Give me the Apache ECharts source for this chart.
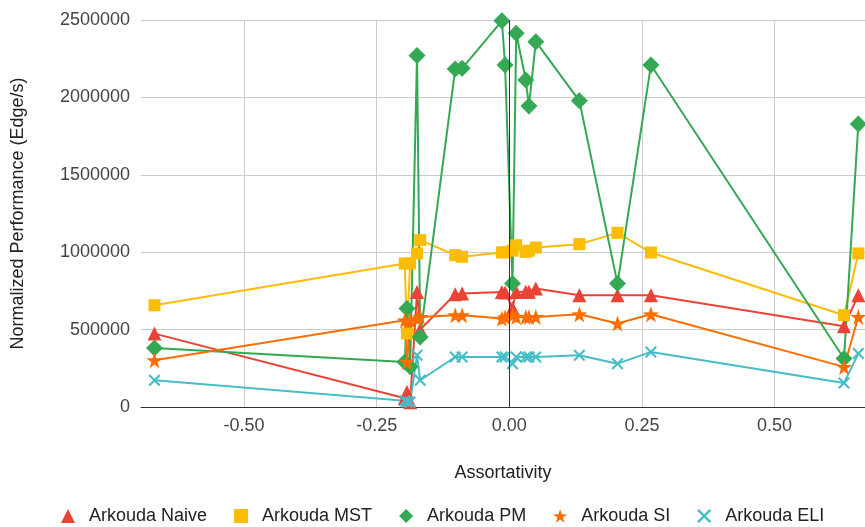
<!DOCTYPE html>
<html>
<head>
<meta charset="utf-8">
<script src="https://cdn.jsdelivr.net/npm/echarts@6/dist/echarts.min.js"></script>
<style>
html,body{margin:0;padding:0;background:#fff;}
#chart{width:865px;height:527px;}
</style>
</head>
<body>
<div id="chart"></div>
<script>
// Assortativity (x) values shared by all series
const xValues = [-0.669, -0.197, -0.193, -0.187, -0.174, -0.168, -0.102, -0.089, -0.014, -0.008, 0.006, 0.013, 0.031, 0.037, 0.050, 0.132, 0.204, 0.267, 0.631, 0.658];
const naive = [474000, 56000, 97000, 30000, 743000, 500000, 728000, 733000, 743000, 740000, 640000, 743000, 745000, 745000, 765000, 722000, 722000, 722000, 522000, 722000];
const mst   = [657000, 927000, 475000, 927000, 992000, 1078000, 981000, 970000, 998000, 1000000, 1010000, 1045000, 1002000, 1010000, 1030000, 1052000, 1125000, 998000, 593000, 992000];
const pm    = [381000, 290000, 636000, 260000, 2270000, 452000, 2183000, 2188000, 2495000, 2209000, 797000, 2414000, 2112000, 1944000, 2360000, 1978000, 797000, 2209000, 313000, 1828000];
const si    = [302000, 560000, 291000, 560000, 571000, 582000, 593000, 593000, 571000, 580000, 593000, 582000, 582000, 582000, 582000, 599000, 539000, 599000, 259000, 582000];
const eli   = [173000, 40000, 32000, 32000, 334000, 173000, 323000, 323000, 323000, 323000, 280000, 323000, 323000, 323000, 323000, 334000, 280000, 356000, 155000, 345000];

const seriesNames = ['Arkouda Naive', 'Arkouda MST', 'Arkouda PM', 'Arkouda SI', 'Arkouda ELI'];
const xTicks = [-0.5, -0.25, 0, 0.25, 0.5];
const yTicks = [0, 500000, 1000000, 1500000, 2000000, 2500000];

const colors = ['#ea4335', '#fbbc04', '#34a853', '#ff6d01', '#46bdc6'];
const starPath = 'path://M12,0 L14.9,8.6 L24,8.7 L16.7,14.1 L19.4,22.8 L12,17.6 L4.6,22.8 L7.3,14.1 L0,8.7 L9.1,8.6 Z';
const xPath = 'path://M1.5,0 L6,4.5 L10.5,0 L12,1.5 L7.5,6 L12,10.5 L10.5,12 L6,7.5 L1.5,12 L0,10.5 L4.5,6 L0,1.5 Z';
const symbols = ['triangle', 'rect', 'diamond', starPath, xPath];
const symSizes = [14, 12, 17, 16, 12];
const allData = [naive, mst, pm, si, eli];

const font = '"Liberation Sans", Arial, sans-serif';

const series = seriesNames.map((name, i) => {
  const s = {
    name: name,
    type: 'line',
    data: xValues.map((x, j) => [x, allData[i][j]]),
    symbol: symbols[i],
    symbolSize: symSizes[i],
    showAllSymbol: true,
    lineStyle: { width: 2, color: colors[i] },
    itemStyle: { color: colors[i] },
    emphasis: { disabled: true },
    animation: false
  };
  if (i === 0) {
    s.markLine = {
      silent: true,
      symbol: 'none',
      label: { show: false },
      lineStyle: { color: '#333', type: 'solid', width: 1 },
      data: [{ xAxis: 0 }],
      animation: false
    };
  }
  return s;
});

const chart = echarts.init(document.getElementById('chart'));
chart.setOption({
  backgroundColor: '#fff',
  animation: false,
  color: colors,
  textStyle: { fontFamily: font },
  grid: { left: 141, right: 0, top: 20, bottom: 120, containLabel: false },
  xAxis: {
    type: 'value',
    min: -0.6944,
    max: 0.6706,
    name: 'Assortativity',
    nameLocation: 'middle',
    nameGap: 57,
    nameTextStyle: { fontSize: 18, color: '#222', fontFamily: font },
    axisLine: { show: true, onZero: true, lineStyle: { color: '#333', width: 1 } },
    axisTick: { show: false, customValues: xTicks },
    axisLabel: {
      customValues: xTicks,
      margin: 10,
      fontSize: 18,
      color: '#444',
      fontFamily: font,
      formatter: v => v.toFixed(2)
    },
    splitLine: { show: true, lineStyle: { color: '#cccccc', width: 1 } }
  },
  yAxis: {
    type: 'value',
    min: 0,
    max: 2500000,
    interval: 500000,
    name: 'Normalized Performance (Edge/s)',
    nameLocation: 'middle',
    nameGap: 114,
    nameTextStyle: { fontSize: 18, color: '#222', fontFamily: font },
    axisLine: { show: false },
    axisTick: { show: false },
    axisLabel: {
      margin: 11,
      fontSize: 18,
      color: '#444',
      fontFamily: font,
      formatter: v => String(v)
    },
    splitLine: { show: true, lineStyle: { color: '#cccccc', width: 1 } }
  },
  legend: {
    left: 56,
    top: 502,
    itemGap: 27,
    itemWidth: 14,
    itemHeight: 14,
    textStyle: { fontSize: 18, color: '#222', fontFamily: font, padding: [0, 0, 0, 9] },
    data: seriesNames.map((n, i) => ({ name: n, icon: symbols[i] }))
  },
  series: series
});
</script>
</body>
</html>
